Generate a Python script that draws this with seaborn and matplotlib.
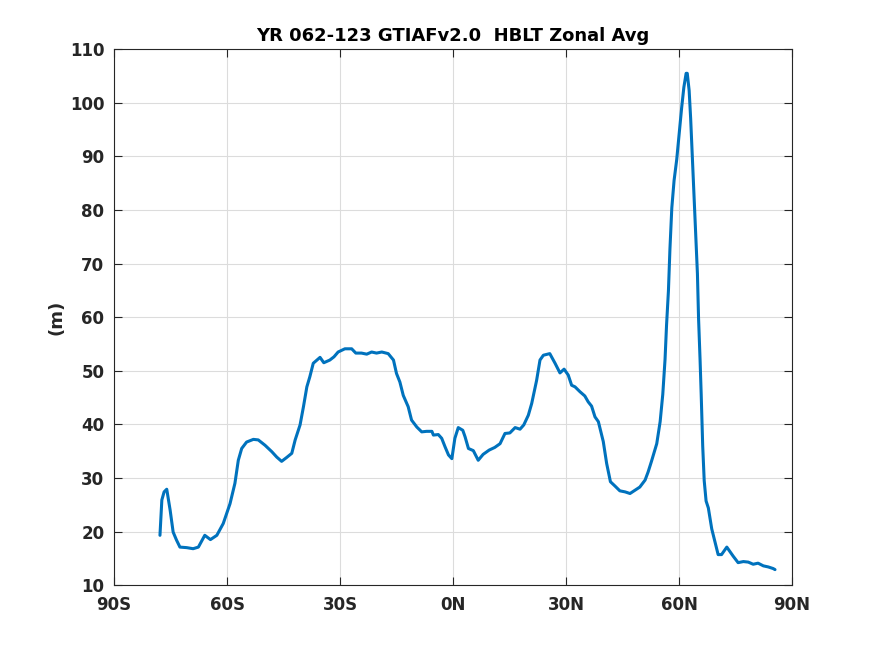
import numpy as np
import pandas as pd
import matplotlib
matplotlib.use("Agg")
import matplotlib.pyplot as plt
import seaborn as sns

# latitude (deg, negative = south) and zonal-average HBLT (m)
lat = [-77.8, -77.3, -76.7, -76.0, -75.1, -74.3, -73.4, -72.5, -70.7, -69.0,
       -67.6, -65.9, -64.4, -62.7, -61.0, -59.2, -57.9, -57.0, -56.1, -54.8,
       -53.0, -51.7, -49.9, -48.1, -46.8, -45.5, -44.2, -42.8, -41.9, -40.6,
       -39.7, -38.8, -38.0, -37.1, -35.3, -34.3, -32.7, -31.6, -30.5, -28.7,
       -26.9, -25.8, -24.3, -22.9, -21.6, -20.3, -18.9, -17.2, -15.8, -15.0,
       -14.1, -13.2, -11.9, -11.0, -9.6, -8.3, -7.0, -5.6, -5.2, -3.9,
       -3.0, -2.1, -1.2, -0.3, 0.5, 1.4, 2.6, 3.2, 4.1, 5.4,
       6.7, 8.0, 9.6, 11.1, 12.5, 13.8, 15.1, 16.5, 17.8, 18.8,
       20.0, 20.9, 22.2, 23.1, 24.0, 25.7, 27.1, 28.4, 29.5, 30.6,
       31.5, 32.4, 33.7, 35.0, 35.9, 36.8, 37.7, 38.6, 39.9, 40.8,
       41.8, 43.0, 44.3, 45.7, 47.0, 48.3, 49.6, 51.0, 51.8, 52.7,
       53.5, 54.1, 55.0, 55.7, 56.3, 56.7, 57.2, 57.6, 58.1, 58.7,
       59.4, 60.0, 60.7, 61.3, 61.9, 62.2, 62.7, 63.1, 63.5, 64.0,
       64.4, 64.9, 65.2, 65.6, 65.9, 66.3, 66.7, 67.2, 67.8, 68.7,
       69.6, 70.4, 71.3, 72.7, 73.5, 74.4, 75.7, 77.1, 78.4, 79.7,
       81.0, 82.4, 83.7, 85.0, 85.5]
hblt = [19.3, 25.9, 27.4, 27.9, 24.0, 19.9, 18.4, 17.1, 17.0, 16.8,
        17.1, 19.3, 18.5, 19.3, 21.5, 25.2, 29.0, 33.3, 35.5, 36.7,
        37.2, 37.1, 36.1, 34.9, 33.9, 33.1, 33.8, 34.6, 37.1, 39.9,
        43.3, 47.0, 48.9, 51.4, 52.5, 51.5, 52.0, 52.6, 53.5, 54.1,
        54.1, 53.3, 53.3, 53.1, 53.5, 53.3, 53.5, 53.2, 52.0, 49.5,
        47.9, 45.4, 43.3, 40.8, 39.5, 38.6, 38.7, 38.7, 38.0, 38.1,
        37.4, 35.8, 34.3, 33.6, 37.4, 39.4, 38.9, 37.7, 35.5, 35.1,
        33.3, 34.4, 35.2, 35.7, 36.4, 38.3, 38.4, 39.4, 39.1, 39.9,
        41.7, 43.9, 48.2, 52.0, 52.9, 53.2, 51.4, 49.6, 50.3, 49.2,
        47.3, 47.0, 46.1, 45.3, 44.2, 43.4, 41.4, 40.5, 36.8, 32.7,
        29.3, 28.5, 27.6, 27.4, 27.1, 27.7, 28.3, 29.6, 31.1, 33.1,
        35.0, 36.4, 40.5, 45.6, 52.1, 58.5, 64.9, 72.7, 80.4, 85.5,
        89.4, 93.9, 99.0, 102.9, 105.5, 105.5, 102.3, 97.1, 90.7, 82.9,
        76.5, 68.1, 59.8, 52.1, 45.6, 36.0, 29.5, 25.7, 24.4, 20.5,
        18.0, 15.7, 15.7, 17.1, 16.3, 15.4, 14.2, 14.4, 14.3, 13.9,
        14.1, 13.6, 13.4, 13.1, 12.9]

xticks = [-90, -60, -30, 0, 30, 60, 90]
xticklabels = ['90S', '60S', '30S', '0N', '30N', '60N', '90N']

sns.set_theme(style="ticks")
plt.rcParams.update({'font.family': 'DejaVu Sans', 'font.weight': 'bold',
                     'font.size': 12, 'xtick.direction': 'in', 'ytick.direction': 'in'})

df = pd.DataFrame({'lat': lat, 'hblt': hblt})

fig = plt.figure(figsize=(8.75, 6.56), dpi=100)
ax = fig.add_axes([0.1303, 0.108, 0.7748, 0.817])
sns.lineplot(data=df, x='lat', y='hblt', ax=ax, color='#0072BD', linewidth=2.2)

ax.set_xlim(-90, 90)
ax.set_ylim(10, 110)
ax.set_xticks(xticks)
ax.set_xticklabels(xticklabels, fontweight='bold', fontsize=12, color='#262626')
ax.set_yticks(np.arange(10, 111, 10))
ax.set_yticklabels([str(v) for v in range(10, 111, 10)], fontweight='bold',
                   fontsize=12, color='#262626')
ax.tick_params(top=True, right=True, length=6, width=0.8, colors='#262626',
               labelcolor='#262626')
ax.tick_params(axis='y', pad=7)
ax.tick_params(axis='x', pad=8)
ax.grid(True, color='#dcdcdc', linewidth=0.8)
for s in ax.spines.values():
    s.set_color('#262626')
    s.set_linewidth(0.8)

ax.set_xlabel('')
ax.set_ylabel('(m)', fontweight='bold', fontsize=13, color='#262626', labelpad=3)
ax.set_title('YR 062-123 GTIAFv2.0  HBLT Zonal Avg', fontweight='bold',
             fontsize=13, color='black', pad=6)

plt.savefig('out.png', dpi=100)
